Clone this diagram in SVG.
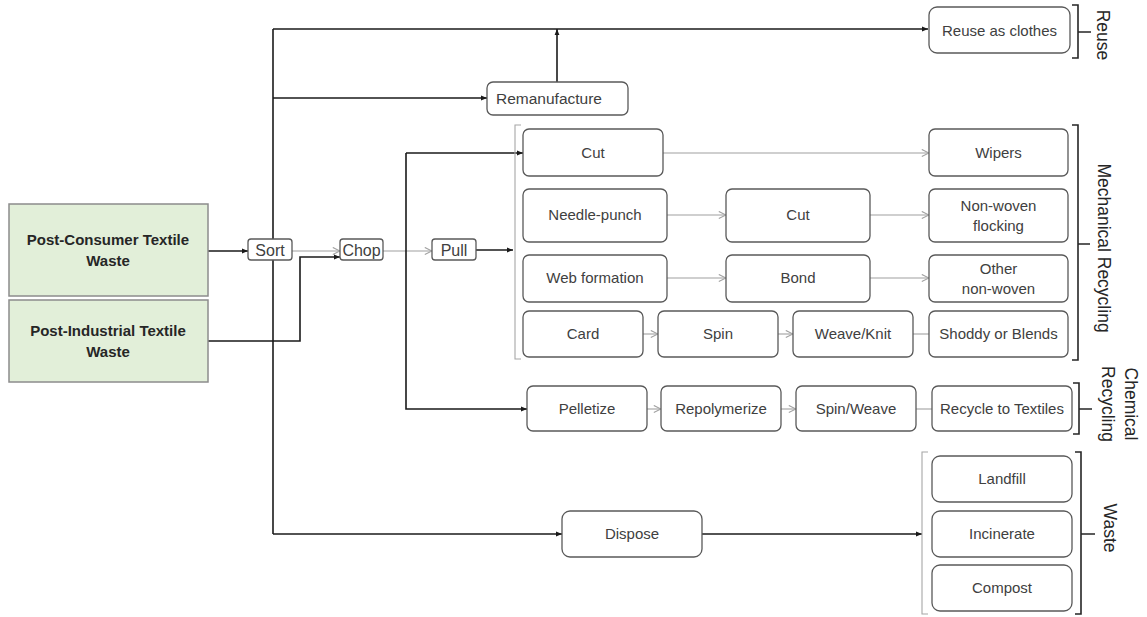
<svg xmlns="http://www.w3.org/2000/svg" width="1147" height="617" viewBox="0 0 1147 617">
  <style>
    .node rect { fill: #ffffff; stroke: #595959; stroke-width: 1.3; }
    .src rect { fill: #e2efd9; stroke: #8c8c8c; stroke-width: 1.5; }
    text { font-family: "Liberation Sans", Arial, sans-serif; font-size: 15px; fill: #404040; text-anchor: middle; }
    .src text { font-weight: bold; fill: #262626; }
    .small text { font-size: 16px; }
    .main { fill: none; stroke: #1a1a1a; stroke-width: 1.6; }
    .minor { fill: none; stroke: #a0a0a0; stroke-width: 1.1; }
    .brace { fill: none; stroke: #262626; stroke-width: 1.6; }
    .brace-light { fill: none; stroke: #a6a6a6; stroke-width: 1.1; }
    .side { font-size: 17.5px; fill: #262626; }
  </style>
  <defs>
    <marker id="solid" viewBox="0 0 10 10" refX="10" refY="5" markerWidth="6" markerHeight="6" orient="auto" markerUnits="userSpaceOnUse">
      <path d="M0,1 L10,5 L0,9 z" fill="#1a1a1a"/>
    </marker>
    <marker id="open" viewBox="0 0 10 10" refX="10" refY="5" markerWidth="9" markerHeight="9" orient="auto" markerUnits="userSpaceOnUse">
      <path d="M2,1 L10,5 L2,9" fill="none" stroke="#a0a0a0" stroke-width="1.2"/>
    </marker>
  </defs>

  <!-- connectors -->
  <g id="connectors">
    <path class="main" d="M208,251 H248" marker-end="url(#solid)"/>
    <path class="minor" d="M292,251 H340" marker-end="url(#open)"/>
    <path class="main" d="M208,341 H300 V257 H340" marker-end="url(#solid)"/>
    <path class="minor" d="M383,251 H432" marker-end="url(#open)"/>
    <path class="main" d="M476,250 H513" marker-end="url(#solid)"/>
    <path class="main" d="M273,29 V534"/>
    <path class="main" d="M273,29 H928" marker-end="url(#solid)"/>
    <path class="main" d="M273,98 H487" marker-end="url(#solid)"/>
    <path class="main" d="M557,82 V29" marker-end="url(#solid)"/>
    <path class="main" d="M406,153 H523" marker-end="url(#solid)"/>
    <path class="main" d="M406,153 V409 H527" marker-end="url(#solid)"/>
    <path class="main" d="M273,534 H562" marker-end="url(#solid)"/>
    <path class="main" d="M702,534 H922" marker-end="url(#solid)"/>
    <path class="minor" d="M663,153 H929" marker-end="url(#open)"/>
    <path class="minor" d="M667,215 H726" marker-end="url(#open)"/>
    <path class="minor" d="M870,215 H929" marker-end="url(#open)"/>
    <path class="minor" d="M667,278 H726" marker-end="url(#open)"/>
    <path class="minor" d="M870,278 H929" marker-end="url(#open)"/>
    <path class="minor" d="M643,334 H658" marker-end="url(#open)"/>
    <path class="minor" d="M778,334 H793" marker-end="url(#open)"/>
    <path class="minor" d="M913,334 H929"/>
    <path class="minor" d="M647,409 H661" marker-end="url(#open)"/>
    <path class="minor" d="M781,409 H796" marker-end="url(#open)"/>
    <path class="minor" d="M916,409 H932"/>
  </g>

  <!-- sources -->
  <g id="post-consumer" class="src">
    <rect x="9" y="204" width="199" height="92"/>
    <text x="108" y="245">Post-Consumer Textile</text>
    <text x="108" y="266">Waste</text>
  </g>
  <g id="post-industrial" class="src">
    <rect x="9" y="300" width="199" height="82"/>
    <text x="108" y="336">Post-Industrial Textile</text>
    <text x="108" y="357">Waste</text>
  </g>

  <!-- early processing -->
  <g id="sort" class="node small"><rect x="248" y="239" width="44" height="21" rx="3"/><text x="270" y="256">Sort</text></g>
  <g id="chop" class="node small"><rect x="340" y="239" width="43" height="21" rx="3"/><text x="361.5" y="256">Chop</text></g>
  <g id="pull" class="node small"><rect x="432" y="239" width="44" height="21" rx="3"/><text x="454" y="256">Pull</text></g>
  <g id="remanufacture" class="node"><rect x="487" y="82" width="141" height="33" rx="6"/><text x="549" y="104" style="font-size:15.5px">Remanufacture</text></g>
  <g id="reuse-clothes" class="node"><rect x="929" y="7" width="141" height="46" rx="8"/><text x="999.5" y="36">Reuse as clothes</text></g>

  <!-- mechanical recycling -->
  <g id="cut-a" class="node"><rect x="523" y="129" width="140" height="47" rx="6"/><text x="593" y="158">Cut</text></g>
  <g id="wipers" class="node"><rect x="929" y="129" width="139" height="47" rx="6"/><text x="998.5" y="158">Wipers</text></g>
  <g id="needle-punch" class="node"><rect x="523" y="189" width="144" height="53" rx="6"/><text x="595" y="220">Needle-punch</text></g>
  <g id="cut-b" class="node"><rect x="726" y="189" width="144" height="53" rx="6"/><text x="798" y="220">Cut</text></g>
  <g id="non-woven-flocking" class="node"><rect x="929" y="189" width="139" height="53" rx="6"/><text x="998.5" y="211">Non-woven</text><text x="998.5" y="231">flocking</text></g>
  <g id="web-formation" class="node"><rect x="523" y="255" width="144" height="47" rx="6"/><text x="595" y="283">Web formation</text></g>
  <g id="bond" class="node"><rect x="726" y="255" width="144" height="47" rx="6"/><text x="798" y="283">Bond</text></g>
  <g id="other-non-woven" class="node"><rect x="929" y="255" width="139" height="47" rx="6"/><text x="998.5" y="274">Other</text><text x="998.5" y="294">non-woven</text></g>
  <g id="card" class="node"><rect x="523" y="311" width="120" height="46" rx="6"/><text x="583" y="339">Card</text></g>
  <g id="spin" class="node"><rect x="658" y="311" width="120" height="46" rx="6"/><text x="718" y="339">Spin</text></g>
  <g id="weave-knit" class="node"><rect x="793" y="311" width="120" height="46" rx="6"/><text x="853" y="339">Weave/Knit</text></g>
  <g id="shoddy" class="node"><rect x="929" y="311" width="139" height="46" rx="6"/><text x="998.5" y="339">Shoddy or Blends</text></g>

  <!-- chemical recycling -->
  <g id="pelletize" class="node"><rect x="527" y="386" width="120" height="45" rx="6"/><text x="587" y="414">Pelletize</text></g>
  <g id="repolymerize" class="node"><rect x="661" y="386" width="120" height="45" rx="6"/><text x="721" y="414">Repolymerize</text></g>
  <g id="spin-weave" class="node"><rect x="796" y="386" width="120" height="45" rx="6"/><text x="856" y="414">Spin/Weave</text></g>
  <g id="recycle-textiles" class="node"><rect x="932" y="386" width="140" height="45" rx="6"/><text x="1002" y="414">Recycle to Textiles</text></g>

  <!-- disposal -->
  <g id="dispose" class="node"><rect x="562" y="511" width="140" height="46" rx="8"/><text x="632" y="539">Dispose</text></g>
  <g id="landfill" class="node"><rect x="932" y="456" width="140" height="46" rx="8"/><text x="1002" y="484">Landfill</text></g>
  <g id="incinerate" class="node"><rect x="932" y="511" width="140" height="46" rx="8"/><text x="1002" y="539">Incinerate</text></g>
  <g id="compost" class="node"><rect x="932" y="565" width="140" height="46" rx="8"/><text x="1002" y="593">Compost</text></g>

  <!-- group brackets and labels -->
  <g id="brackets">
    <path class="brace" d="M1072,5 H1078 V58 H1072 M1078,32 H1091"/>
    <path class="brace-light" d="M521,125 H515 V359 H521"/>
    <path class="brace" d="M1072,125 H1078 V360 H1072 M1078,244 H1090"/>
    <path class="brace" d="M1073,383 H1079 V434 H1073 M1079,409 H1092"/>
    <path class="brace-light" d="M928,452 H922 V614 H928"/>
    <path class="brace" d="M1075,452 H1081 V614 H1075 M1081,534 H1095"/>
  </g>
  <g id="group-labels">
    <text class="side" transform="translate(1103,35) rotate(90)" dy="0.35em">Reuse</text>
    <text class="side" transform="translate(1104,248) rotate(90)" dy="0.35em">Mechanical Recycling</text>
    <text class="side" transform="translate(1131,404) rotate(90)" dy="0.35em">Chemical</text>
    <text class="side" transform="translate(1108,404) rotate(90)" dy="0.35em">Recycling</text>
    <text class="side" transform="translate(1110,528) rotate(90)" dy="0.35em">Waste</text>
  </g>
</svg>
